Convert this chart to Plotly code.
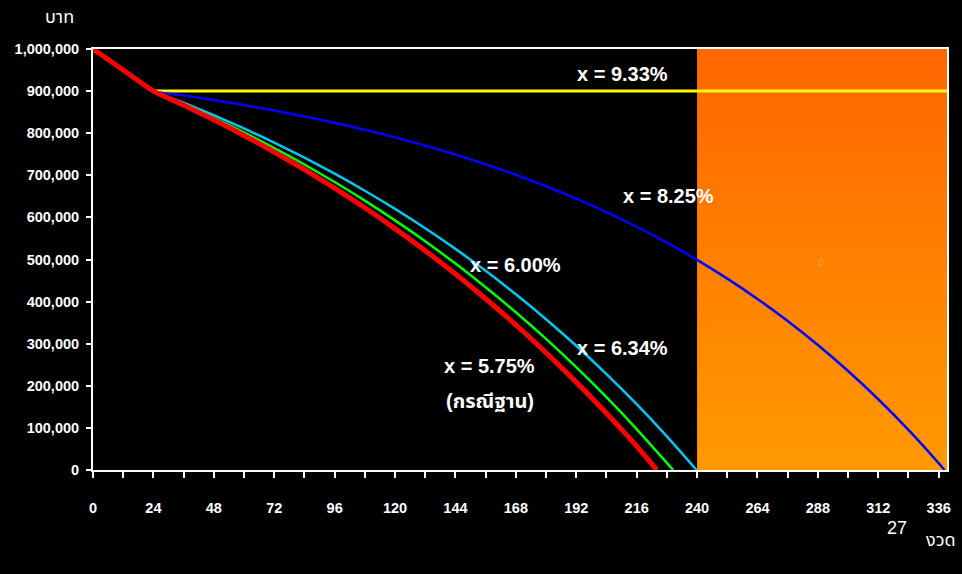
import plotly.graph_objects as go

# months (งวด)
months = [0, 12, 24, 36, 48, 60, 72, 84, 96, 108, 120, 132, 144, 156, 168, 180,
          192, 204, 216, 228, 240, 252, 264, 276, 288, 300, 312, 324, 336]

# outstanding balance (บาท)
red_575 = [1000000, 950000, 900000, 866900, 831800, 794700, 755300, 713700, 669600,
           622900, 573400, 521000, 465500, 406700, 344500, 278600, 208700, 134800, 56500]
red_end = (224, 0)
green_600 = [1000000, 950000, 900000, 869200, 836400, 801700, 764800, 725600, 684000,
             639800, 592900, 543200, 490300, 434200, 374600, 311400, 244200, 173000, 97300, 16900]
green_end = (230.5, 0)
cyan_634 = [1000000, 950000, 900000, 872300, 842700, 811200, 777700, 742000, 703900,
            663400, 620200, 574200, 525200, 473000, 417400, 358200, 295100, 227800, 156200, 79900]
cyan_end = (239.8, 0)
blue_825 = [1000000, 950000, 900000, 889900, 878900, 866900, 854000, 839900, 824600,
            808000, 790000, 770500, 749300, 726200, 701200, 674000, 644500, 612500, 577800,
            540000, 499000, 454500, 406300, 353800, 296900, 235100, 168000, 95100, 16000]
blue_end = (338.3, 0)
yellow_months = [24, 339.3]
yellow_933 = [900000, 900000]

x_max = 339.3
orange_x0 = 240

labels = [
    ("x = 9.33%", 210.2, 940600),
    ("x = 8.25%", 228.5, 650800),
    ("x = 6.00%", 167.7, 487000),
    ("x = 6.34%", 210.2, 289800),
    ("x = 5.75%", 157.7, 247000),
    ("(กรณีฐาน)", 157.7, 163900),
]

FONT = "Liberation Sans, Arial, Noto Sans Thai, sans-serif"

fig = go.Figure()

# orange shaded zone with vertical gradient
fig.add_trace(go.Scatter(
    x=[orange_x0, x_max, x_max, orange_x0, orange_x0],
    y=[0, 0, 1000000, 1000000, 0],
    mode="lines", line=dict(width=0), fill="toself",
    fillgradient=dict(type="vertical", colorscale=[[0, "#FF9900"], [1, "#FF6600"]]),
    hoverinfo="skip", showlegend=False,
))

def series(vals, end):
    xs = months[:len(vals)] + [end[0]]
    ys = vals + [end[1]]
    return xs, ys

fig.add_trace(go.Scatter(x=yellow_months, y=yellow_933, mode="lines",
                         line=dict(color="#FFFF00", width=3), showlegend=False))
for vals, end, color, w in [
    (blue_825, blue_end, "#0000FF", 2.5),
    (cyan_634, cyan_end, "#00C8F0", 2.5),
    (green_600, green_end, "#00FF00", 2.5),
    (red_575, red_end, "#FF0000", 5),
]:
    xs, ys = series(vals, end)
    fig.add_trace(go.Scatter(x=xs, y=ys, mode="lines",
                             line=dict(color=color, width=w, shape="spline", smoothing=0.6),
                             showlegend=False))

for text, x, y in labels:
    fig.add_annotation(x=x, y=y, text=f"<b>{text}</b>", showarrow=False,
                       font=dict(family=FONT, size=20, color="white"))

fig.add_annotation(x=289.3, y=491700, text="0", showarrow=False,
                   font=dict(family=FONT, size=10, color="#FFA040"))

fig.add_annotation(xref="paper", yref="paper", x=-0.0585, y=1.076, xanchor="left",
                   yanchor="middle", text="บาท", showarrow=False,
                   font=dict(family=FONT, size=18, color="white"))
fig.add_annotation(xref="paper", yref="paper", x=0.9415, y=-0.138, xanchor="center",
                   yanchor="middle", text="27", showarrow=False,
                   font=dict(family=FONT, size=18, color="white"))
fig.add_annotation(xref="paper", yref="paper", x=0.993, y=-0.166, xanchor="center",
                   yanchor="middle", text="งวด", showarrow=False,
                   font=dict(family=FONT, size=18, color="white"))

fig.update_layout(
    width=962, height=574,
    margin=dict(l=93, r=15, t=49, b=104),
    paper_bgcolor="black", plot_bgcolor="black",
    font=dict(family=FONT, color="white"),
    xaxis=dict(range=[0, x_max], tickmode="array", tickvals=list(range(0, 337, 24)),
               ticks="outside", ticklen=6, tickwidth=1.5, tickcolor="white",
               minor=dict(tickmode="linear", tick0=0, dtick=12, ticks="outside",
                          ticklen=6, tickwidth=1.5, tickcolor="white"),
               showgrid=False, zeroline=False, showline=True, linecolor="white",
               linewidth=2, mirror=True, ticklabelstandoff=18,
               tickfont=dict(family=FONT, size=14.5, color="white", weight="bold")),
    yaxis=dict(range=[0, 1000000], tickmode="linear", tick0=0, dtick=100000,
               tickformat=",d", ticks="outside", ticklen=5, tickwidth=1.5,
               tickcolor="white", showgrid=False, zeroline=False, showline=True,
               linecolor="white", linewidth=2, mirror=True, ticklabelstandoff=4,
               tickfont=dict(family=FONT, size=14.5, color="white", weight="bold")),
)

fig.write_html("out.html", config={"displayModeBar": False},
               post_script="document.body.style.margin='0';document.body.style.background='black';")
